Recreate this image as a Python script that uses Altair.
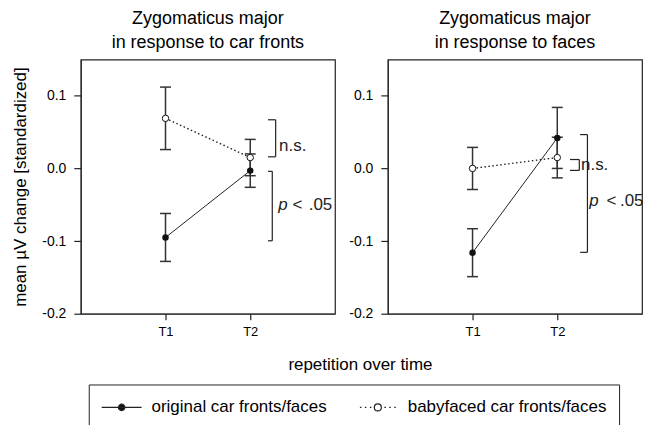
import altair as alt
import pandas as pd

FONT = "Liberation Sans, Arial, sans-serif"
INK = "#222222"

# ---------------- data ----------------
time_labels = ["T1", "T2"]
time_pos = [1, 2]
series_names = ["original car fronts/faces", "babyfaced car fronts/faces"]

panel_titles = [["Zygomaticus major", "in response to car fronts"],
                ["Zygomaticus major", "in response to faces"]]

cars_orig_mean = [-0.095, -0.003]
cars_orig_err = [0.033, 0.023]
cars_baby_mean = [0.069, 0.015]
cars_baby_err = [0.043, 0.025]

faces_orig_mean = [-0.116, 0.042]
faces_orig_err = [0.033, 0.042]
faces_baby_mean = [0.000, 0.015]
faces_baby_err = [0.029, 0.028]

# significance brackets
cars_br_arm = [2.21, 2.21]
cars_br_line = [2.30, 2.26]
cars_br_top = [0.067, -0.004]
cars_br_bottom = [0.016, -0.0996]

faces_br_arm = [2.15, 2.27]
faces_br_line = [2.26, 2.356]
faces_br_top = [0.0123, 0.0466]
faces_br_bottom = [-0.0027, -0.1155]

# bracket labels
note_text = ["n.s.", "p", "<", ".05"]
note_style = ["normal", "italic", "normal", "normal"]
cars_note_x = [2.34, 2.33, 2.50, 2.69]
cars_note_y = [0.0315, -0.051, -0.051, -0.051]
faces_note_x = [2.28, 2.376, 2.58, 2.74]
faces_note_y = [0.0045, -0.045, -0.045, -0.045]

y_ticks = [-0.2, -0.1, 0.0, 0.1]
y_domain = [-0.2, 0.15]
x_domain = [0, 3]

# custom legend symbols (unit square coordinates)
sym_original = "M-2,0H2M0.32,0A0.32,0.32,0,1,1,-0.32,0A0.32,0.32,0,1,1,0.32,0Z"
sym_baby = ("M-1.8,0h0.15M-1.3,0h0.15M-0.8,0h0.15"
            "M0.35,0A0.35,0.35,0,1,1,-0.35,0A0.35,0.35,0,1,1,0.35,0Z"
            "M0.65,0h0.15M1.15,0h0.15M1.65,0h0.15")

label_expr = " : ".join(f"datum.value == {p} ? '{l}'" for p, l in zip(time_pos, time_labels)) + " : ''"


def panel(orig_mean, orig_err, baby_mean, baby_err,
          br_arm, br_line, br_top, br_bottom, note_x, note_y, title, first):
    rows = []
    for name, means, errs in [(series_names[0], orig_mean, orig_err),
                              (series_names[1], baby_mean, baby_err)]:
        for t, p, m, e in zip(time_labels, time_pos, means, errs):
            rows.append({"series": name, "time": t, "x": p, "mean": m,
                         "lo": m - e, "hi": m + e})
    df = pd.DataFrame(rows)
    caps = pd.concat([df.assign(cap=df["lo"]), df.assign(cap=df["hi"])])

    segs = []
    for a, l, t, b in zip(br_arm, br_line, br_top, br_bottom):
        segs.append({"x": l, "x2": l, "y": t, "y2": b})
        segs.append({"x": a, "x2": l, "y": t, "y2": t})
        segs.append({"x": a, "x2": l, "y": b, "y2": b})
    segs = pd.DataFrame(segs)
    notes = pd.DataFrame({"text": note_text, "style": note_style,
                          "x": note_x, "y": note_y})

    x_axis = alt.Axis(values=time_pos, labelExpr=label_expr, tickSize=6,
                      labelPadding=6, labelFontSize=13, grid=False,
                      title="repetition over time" if first else None,
                      titleX=280, titleY=51, titleBaseline="middle",
                      titleFontSize=17)
    y_axis = alt.Axis(values=y_ticks, format=".1f",
                      labelExpr="replace(datum.label, '\u2212', '-')",
                      tickSize=7, labelPadding=8, labelFontSize=14, grid=False,
                      title="mean \u00b5V change [standardized]" if first else None,
                      titleFontSize=17, titlePadding=12)

    def X(f):
        return alt.X(f"{f}:Q", scale=alt.Scale(domain=x_domain), axis=x_axis)

    def Y(f):
        return alt.Y(f"{f}:Q", scale=alt.Scale(domain=y_domain), axis=y_axis)

    base = alt.Chart(df)
    orig = base.transform_filter(alt.datum.series == series_names[0])
    baby = base.transform_filter(alt.datum.series == series_names[1])

    layers = [
        base.mark_rule(color="#333", strokeWidth=1.5).encode(x=X("x"), y=Y("lo"), y2="hi"),
        alt.Chart(caps).mark_tick(orient="horizontal", size=11, thickness=1.5, color="#333",
                                  opacity=1)
        .encode(x=X("x"), y=Y("cap")),
        baby.mark_line(color=INK, strokeWidth=1.4, strokeDash=[1.5, 2.5]).encode(x=X("x"), y=Y("mean")),
        orig.mark_line(color=INK, strokeWidth=1).encode(x=X("x"), y=Y("mean")),
        orig.mark_point(filled=True, size=42, color="#111", opacity=1).encode(x=X("x"), y=Y("mean")),
        baby.mark_point(filled=True, fill="white", stroke="#111", strokeWidth=1, size=42,
                        opacity=1).encode(x=X("x"), y=Y("mean")),
        alt.Chart(segs).mark_rule(color=INK, strokeWidth=1.2)
        .encode(x=X("x"), x2="x2", y=Y("y"), y2="y2"),
        alt.Chart(notes).transform_filter(alt.datum.style == "normal")
        .mark_text(align="left", baseline="middle", font=FONT, fontSize=17, color=INK)
        .encode(x=X("x"), y=Y("y"), text="text:N"),
        alt.Chart(notes).transform_filter(alt.datum.style == "italic")
        .mark_text(align="left", baseline="middle", font=FONT, fontSize=17,
                   fontStyle="italic", color=INK)
        .encode(x=X("x"), y=Y("y"), text="text:N"),
    ]

    if first:
        leg = alt.Legend(title=None, orient="none", legendX=8, legendY=326,
                         direction="horizontal", padding=12, strokeColor=INK,
                         labelFont=FONT, labelFontSize=17, labelColor="black",
                         labelOffset=19, symbolOffset=10, symbolSize=400,
                         symbolStrokeWidth=1.2, symbolOpacity=1,
                         columnPadding=30, labelLimit=400)
        legend_df = pd.DataFrame({"series": series_names, "x": [1, 1], "mean": [1.0, 1.0]})
        layers.append(
            alt.Chart(legend_df).mark_point(filled=True, strokeWidth=1.2, opacity=1,
                                            clip=True, size=400)
            .encode(x=X("x"), y=Y("mean"),
                    shape=alt.Shape("series:N",
                                    scale=alt.Scale(domain=series_names,
                                                    range=[sym_original, sym_baby]),
                                    legend=leg),
                    fill=alt.Fill("series:N",
                                  scale=alt.Scale(domain=series_names,
                                                  range=["#111", "white"]),
                                  legend=leg),
                    stroke=alt.Stroke("series:N",
                                      scale=alt.Scale(domain=series_names,
                                                      range=[INK, INK]),
                                      legend=leg))
        )

    return alt.layer(*layers).properties(
        width=255, height=255,
        title=alt.TitleParams(title, font=FONT, fontSize=18, fontWeight="normal",
                              color="black", lineHeight=24, offset=8, anchor="middle"),
    )


left = panel(cars_orig_mean, cars_orig_err, cars_baby_mean, cars_baby_err,
             cars_br_arm, cars_br_line, cars_br_top, cars_br_bottom,
             cars_note_x, cars_note_y, panel_titles[0], True)
right = panel(faces_orig_mean, faces_orig_err, faces_baby_mean, faces_baby_err,
              faces_br_arm, faces_br_line, faces_br_top, faces_br_bottom,
              faces_note_x, faces_note_y, panel_titles[1], False)

chart = (
    alt.hconcat(left, right, spacing=53, bounds="flush")
    .properties(padding={"left": 3, "top": 0, "right": 0, "bottom": 0})
    .configure_view(stroke=INK, strokeWidth=1.2)
    .configure_axis(labelFont=FONT, titleFont=FONT, labelColor="black",
                    titleColor="black", tickColor=INK, domainColor=INK,
                    titleFontWeight="normal", tickWidth=1.2)
)

chart.save("out.html", embed_options={"renderer": "svg", "actions": False})
